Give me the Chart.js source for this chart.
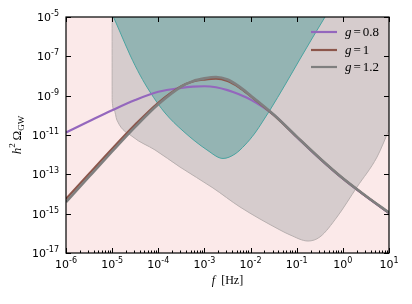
<!DOCTYPE html>
<html><head><meta charset="utf-8">
<script src="https://cdn.jsdelivr.net/npm/chart.js@4.4.0/dist/chart.umd.min.js"></script>
<style>html,body{margin:0;padding:0;background:#fff;}#wrap{width:412px;height:304px;}</style>
</head><body><div id="wrap"><canvas id="c" width="412" height="304"></canvas></div>
<script>
// ---- data ----
const freq = [1e-6, 3.16e-6, 1e-5, 3.16e-5, 1e-4, 3.16e-4, 5.62e-4, 1e-3, 1.78e-3, 3.16e-3, 5.62e-3, 1e-2, 3.16e-2, 0.1, 0.316, 1, 3.16, 10];
const omegaG08 = [1.35e-11, 5.01e-11, 1.82e-10, 6.03e-10, 1.58e-9, 2.51e-9, 2.88e-9, 3.02e-9, 2.69e-9, 1.91e-9, 1.17e-9, 6.31e-10, 1.07e-10, 7.94e-12, 6.31e-13, 6.03e-14, 7.59e-15, 1.07e-15];
const omegaG10 = [5.62e-15, 1.07e-13, 2.00e-12, 3.39e-11, 4.37e-10, 3.02e-9, 5.25e-9, 6.61e-9, 7.41e-9, 5.62e-9, 2.69e-9, 9.55e-10, 1.05e-10, 8.13e-12, 6.46e-13, 6.17e-14, 7.76e-15, 1.10e-15];
const omegaG12 = [3.89e-15, 7.59e-14, 1.45e-12, 2.57e-11, 3.63e-10, 2.88e-9, 5.50e-9, 7.59e-9, 8.91e-9, 6.61e-9, 2.95e-9, 1.02e-9, 1.10e-10, 8.32e-12, 6.61e-13, 6.31e-14, 7.94e-15, 1.12e-15];
const gValues = ['0.8', '1', '1.2'];

// wide sensitivity region (grey), lower boundary
const grayRegionF = [1e-5, 1.002e-5, 1.10e-5, 1.27e-5, 2.83e-5, 8.49e-5, 2.96e-4, 1.53e-3, 5.90e-3, 4.35e-2, 7.16e-2, 0.176, 0.320, 0.746, 2.03, 5.50, 10];
const grayRegionO = [1e-5, 6.03e-10, 1.86e-10, 5.75e-11, 7.94e-12, 1.74e-12, 2.34e-13, 2.04e-14, 2.19e-15, 1.48e-16, 8.32e-17, 4.07e-17, 6.61e-17, 6.76e-16, 2.29e-14, 7.59e-13, 1.82e-11];
// narrow sensitivity region (teal), lower boundary
const tealRegionF = [1.07e-5, 1.48e-5, 2.44e-5, 4.02e-5, 6.62e-5, 1.40e-4, 3.44e-4, 1.14e-3, 2.53e-3, 4.60e-3, 7.57e-3, 1.25e-2, 1.86e-2, 2.64e-2, 5.57e-2, 0.118, 0.225, 0.410];
const tealRegionO = [1e-5, 1.73e-6, 1.17e-7, 1.12e-8, 1.54e-9, 1.32e-10, 1.60e-11, 1.73e-12, 6.40e-13, 1.08e-12, 3.11e-12, 1.27e-11, 5.16e-11, 1.87e-10, 3.49e-9, 7.33e-8, 9.61e-7, 1e-5];

const xTickExps = [-6, -5, -4, -3, -2, -1, 0, 1];
const yTickExps = [-17, -15, -13, -11, -9, -7, -5];

// ---- styling ----
const PINK = '#fbe9e9';
const C_PURPLE = '#9467bd', C_BROWN = '#8c564b', C_GRAY = '#7f7f7f';

const pts = (xs, ys) => xs.map((x, i) => ({x: x, y: ys[i]}));

const decor = {
  id: 'decor',
  beforeDraw(chart) {
    const {ctx, chartArea: a} = chart;
    ctx.save();
    ctx.fillStyle = '#fff';
    ctx.fillRect(0, 0, chart.width, chart.height);
    ctx.fillStyle = PINK;
    ctx.fillRect(a.left, a.top, a.right - a.left, a.bottom - a.top);
    ctx.restore();
  },
  afterDraw(chart) {
    const {ctx, chartArea: a} = chart;
    const xs = chart.scales.x, ys = chart.scales.y;
    ctx.save();
    ctx.strokeStyle = '#000';
    ctx.lineWidth = 1.2;
    ctx.strokeRect(a.left, a.top, a.right - a.left, a.bottom - a.top);
    ctx.lineWidth = 1;
    ctx.beginPath();
    xTickExps.forEach(e => {
      const px = Math.round(xs.getPixelForValue(Math.pow(10, e))) + 0.5;
      ctx.moveTo(px, a.bottom); ctx.lineTo(px, a.bottom - 5);
      ctx.moveTo(px, a.top); ctx.lineTo(px, a.top + 5);
    });
    for (let e = -6; e < 1; e++) {
      for (let m = 2; m <= 9; m++) {
        const px = Math.round(xs.getPixelForValue(m * Math.pow(10, e))) + 0.5;
        ctx.moveTo(px, a.bottom); ctx.lineTo(px, a.bottom - 2.5);
      }
    }
    yTickExps.forEach(e => {
      const py = Math.round(ys.getPixelForValue(Math.pow(10, e))) + 0.5;
      ctx.moveTo(a.left, py); ctx.lineTo(a.left + 5, py);
      ctx.moveTo(a.right, py); ctx.lineTo(a.right - 5, py);
    });
    ctx.stroke();

    const baseFont = '11px "DejaVu Sans"', supFont = '8px "DejaVu Sans"';
    const drawPow = (e, x, y, align) => {
      ctx.font = baseFont;
      const wb = ctx.measureText('10').width;
      ctx.font = supFont;
      const es = String(e);
      const we = ctx.measureText(es).width;
      const w = wb + we;
      const x0 = align === 'center' ? x - w / 2 : x - w;
      ctx.fillStyle = '#000';
      ctx.textAlign = 'left';
      ctx.textBaseline = 'alphabetic';
      ctx.font = baseFont;
      ctx.fillText('10', x0, y);
      ctx.font = supFont;
      ctx.fillText(es, x0 + wb, y - 5);
    };
    xTickExps.forEach(e => drawPow(e, xs.getPixelForValue(Math.pow(10, e)), a.bottom + 15, 'center'));
    yTickExps.forEach(e => drawPow(e, a.left - 7, ys.getPixelForValue(Math.pow(10, e)) + 4, 'right'));

    const serif = '"Liberation Serif", "DejaVu Serif", serif';
    ctx.fillStyle = '#000';
    // x axis title
    ctx.font = 'italic 12px ' + serif;
    const wf = ctx.measureText('f').width;
    ctx.font = '12px ' + serif;
    const wh = ctx.measureText('[Hz]').width;
    const gap = 6;
    const cx = (a.left + a.right) / 2;
    const tx = cx - (wf + gap + wh) / 2;
    ctx.font = 'italic 12px ' + serif;
    ctx.fillText('f', tx, 284);
    ctx.font = '12px ' + serif;
    ctx.fillText('[Hz]', tx + wf + gap, 284);

    // y axis title
    ctx.save();
    ctx.translate(21, (a.top + a.bottom) / 2);
    ctx.rotate(-Math.PI / 2);
    const parts = [
      {t: 'h', f: 'italic 13px ' + serif, dy: 0},
      {t: '2', f: '9px ' + serif, dy: -6},
      {t: '\u2009', f: '13px ' + serif, dy: 0},
      {t: '\u03A9', f: '13px ' + serif, dy: 0},
      {t: 'GW', f: '9px ' + serif, dy: 3}
    ];
    let tw = 0;
    parts.forEach(p => { ctx.font = p.f; p.w = ctx.measureText(p.t).width; tw += p.w; });
    let px0 = -tw / 2;
    parts.forEach(p => { ctx.font = p.f; ctx.fillText(p.t, px0, p.dy); px0 += p.w; });
    ctx.restore();

    // legend
    const legCols = [C_PURPLE, C_BROWN, C_GRAY];
    const legY = [32, 50, 67];
    gValues.forEach((g, i) => {
      ctx.strokeStyle = legCols[i];
      ctx.lineWidth = 2.2;
      ctx.beginPath();
      ctx.moveTo(311, legY[i]); ctx.lineTo(337, legY[i]);
      ctx.stroke();
      ctx.fillStyle = '#000';
      ctx.font = 'italic 13px ' + serif;
      ctx.fillText('g', 345, legY[i] + 4);
      let xx = 345 + ctx.measureText('g').width + 2;
      ctx.font = '13px ' + serif;
      ctx.fillText('=', xx, legY[i] + 4);
      xx += ctx.measureText('=').width + 2;
      ctx.fillText(g, xx, legY[i] + 4);
    });
    ctx.restore();
  }
};

new Chart(document.getElementById('c'), {
  type: 'line',
  data: {
    datasets: [
      {label: 'g=1.2', data: pts(freq, omegaG12), borderColor: C_GRAY, borderWidth: 2.6, cubicInterpolationMode: 'monotone', fill: false, order: 0},
      {label: 'g=1', data: pts(freq, omegaG10), borderColor: C_BROWN, borderWidth: 2.2, cubicInterpolationMode: 'monotone', fill: false, order: 1},
      {label: 'g=0.8', data: pts(freq, omegaG08), borderColor: C_PURPLE, borderWidth: 2.2, cubicInterpolationMode: 'monotone', fill: false, order: 2},
      {label: 'teal', data: pts(tealRegionF, tealRegionO), borderColor: '#4aa3a0', backgroundColor: '#94b4b3', borderWidth: 1, cubicInterpolationMode: 'monotone', fill: 'end', order: 3},
      {label: 'gray', data: pts(grayRegionF, grayRegionO), borderColor: '#b8b0b0', backgroundColor: '#d6cccd', borderWidth: 1, cubicInterpolationMode: 'monotone', fill: 'end', order: 4}
    ]
  },
  options: {
    responsive: false,
    animation: false,
    devicePixelRatio: 1,
    layout: {padding: {left: 66, top: 17, right: 23, bottom: 51}},
    plugins: {legend: {display: false}, tooltip: {enabled: false}},
    elements: {point: {radius: 0}},
    scales: {
      x: {type: 'logarithmic', min: 1e-6, max: 10, display: false},
      y: {type: 'logarithmic', min: 1e-17, max: 1e-5, display: false}
    }
  },
  plugins: [decor]
});
</script>
</body></html>
